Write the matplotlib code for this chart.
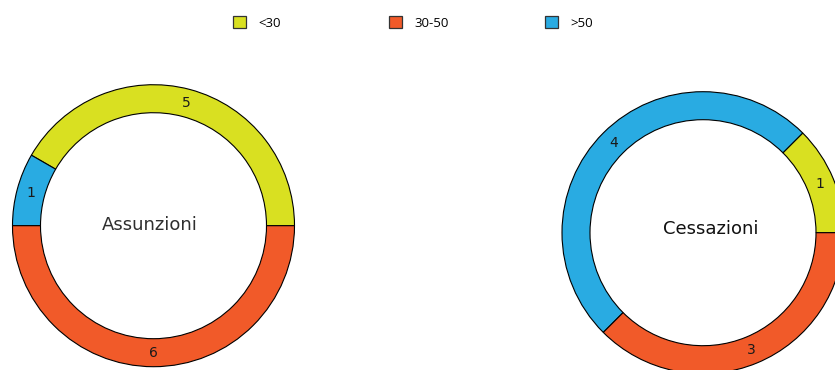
import matplotlib.pyplot as plt
from matplotlib.patches import Patch

# categories / colours
categories = ['<30', '30-50', '>50']
colors = ['#d9e021', '#f15a29', '#29abe2']

# values per category
assunzioni = [5, 6, 1]
cessazioni = [1, 3, 4]

# wedge order counterclockwise from 3 o'clock: <30, >50, 30-50
order = [0, 2, 1]

plt.rcParams['font.family'] = ['DejaVu Sans']

fig = plt.figure(figsize=(8.35, 3.7), dpi=100)
ax = fig.add_axes([0, 0, 1, 1])

R = 141
W = 28


def donut(values, center, title, title_xy, title_color):
    vals = [values[i] for i in order]
    cols = [colors[i] for i in order]
    total = sum(vals)
    wedges, texts, autotexts = ax.pie(
        vals, colors=cols, startangle=0, counterclock=True,
        radius=R, center=center,
        autopct=lambda p: '%d' % round(p * total / 100.0),
        pctdistance=(R - W / 2) / R,
        wedgeprops=dict(width=W, edgecolor='black', linewidth=0.8),
        textprops=dict(fontsize=10, color='#1a1a1a'))
    ax.text(title_xy[0], title_xy[1], title, ha='center', va='center',
            fontsize=13, color=title_color)


donut(assunzioni, (153.5, 370 - 225.7), 'Assunzioni', (149.7, 370 - 225), '#2e2e2e')
donut(cessazioni, (703, 370 - 232.7), 'Cessazioni', (711, 370 - 229), '#111111')

ax.set_xlim(0, 835)
ax.set_ylim(0, 370)
ax.set_aspect('equal')
ax.axis('off')

# legend, one entry each at its own spot
leg_x = [233, 389, 545]
for name, col, x in zip(categories, colors, leg_x):
    h = Patch(facecolor=col, edgecolor='#333333', linewidth=0.9)
    fig.legend([h], [name], loc='center left', bbox_to_anchor=(x / 835, 1 - 23 / 370),
               frameon=False, prop={'family': 'Open Sans', 'size': 9.5},
               handlelength=1.0, handleheight=1.0,
               handletextpad=0.9, borderpad=0, borderaxespad=0)

fig.savefig('out.png', dpi=100)
